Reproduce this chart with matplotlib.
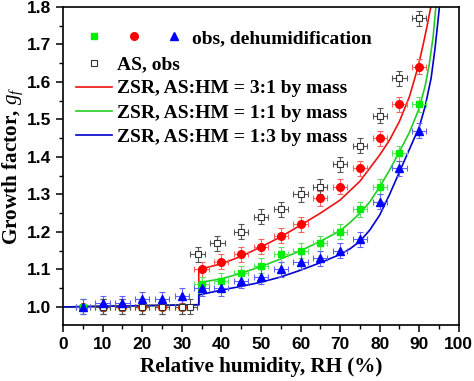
import matplotlib
matplotlib.use("Agg")
import matplotlib.pyplot as plt
from matplotlib.lines import Line2D
from matplotlib.legend_handler import HandlerTuple
from matplotlib.ticker import MultipleLocator

# observed growth factors (dehumidification)
rh_obs = [5, 10, 15, 20, 25, 30, 35, 40, 45, 50, 55, 60, 65, 70, 75, 80, 85, 90]
gf_31 = [1.0, 1.0, 1.0, 1.0, 1.0, 1.0, 1.10, 1.12, 1.14, 1.16, 1.19, 1.22, 1.29, 1.32, 1.37, 1.45, 1.54, 1.64]
gf_11 = [1.0, 1.0, 1.0, 1.0, 1.0, 1.0, 1.06, 1.07, 1.09, 1.11, 1.14, 1.15, 1.17, 1.20, 1.26, 1.32, 1.41, 1.54]
gf_13 = [1.00, 1.01, 1.01, 1.02, 1.02, 1.03, 1.05, 1.05, 1.07, 1.08, 1.10, 1.12, 1.13, 1.15, 1.18, 1.28, 1.37, 1.47]

# pure AS
rh_as = [10, 15, 20, 25, 30, 32, 34, 39, 45, 50, 55, 60, 65, 70, 75, 80, 85, 90]
gf_as = [1.0, 1.0, 1.0, 1.0, 1.0, 1.0, 1.14, 1.17, 1.20, 1.24, 1.26, 1.30, 1.32, 1.38, 1.43, 1.51, 1.61, 1.77]

gf_err = 0.02
rh_err = 1.8

# ZSR predictions
rh_zsr_31 = [0, 34.3, 34.3, 40, 45, 50, 55, 60, 65, 70, 72.5, 75, 77.5, 80, 82.5, 85, 87.5, 89.7, 91, 92, 93.1, 93.6]
gf_zsr_31 = [1.0, 1.006, 1.10, 1.115, 1.135, 1.16, 1.187, 1.218, 1.25, 1.285, 1.31, 1.335, 1.37, 1.405, 1.445, 1.495, 1.56, 1.64, 1.70, 1.75, 1.81, 1.84]
rh_zsr_11 = [0, 34.3, 34.3, 40, 45, 50, 55, 60, 65, 70, 72.5, 75, 77.5, 80, 82.5, 85, 87.5, 90, 91.5, 92.5, 93.5, 94.2, 94.6]
gf_zsr_11 = [1.0, 1.006, 1.065, 1.075, 1.09, 1.108, 1.128, 1.15, 1.175, 1.203, 1.225, 1.25, 1.28, 1.32, 1.365, 1.414, 1.465, 1.53, 1.59, 1.645, 1.72, 1.80, 1.84]
rh_zsr_13 = [0, 34.3, 34.3, 40, 45, 50, 55, 60, 65, 70, 72.5, 75, 77.5, 80, 82.5, 85, 87.5, 90, 91.5, 93, 94, 95, 95.5]
gf_zsr_13 = [1.0, 1.006, 1.032, 1.045, 1.055, 1.066, 1.08, 1.098, 1.118, 1.14, 1.155, 1.175, 1.205, 1.245, 1.30, 1.36, 1.42, 1.48, 1.535, 1.61, 1.69, 1.79, 1.85]

RED, GREEN, BLUE = '#ff0000', '#00ee00', '#0000ff'
serif = 'Liberation Serif'
sans = 'Liberation Sans'

plt.rcParams['mathtext.fontset'] = 'custom'
plt.rcParams['mathtext.it'] = 'Liberation Serif:italic'
plt.rcParams['mathtext.rm'] = 'Liberation Serif'

fig = plt.figure(figsize=(4.74, 3.81), dpi=100)
ax = fig.add_axes([0.133, 0.147, 0.835, 0.835])

ax.plot(rh_zsr_31, gf_zsr_31, color='#ee1111', lw=1.2, zorder=2)
ax.plot(rh_zsr_11, gf_zsr_11, color='#22cc22', lw=1.2, zorder=2)
ax.plot(rh_zsr_13, gf_zsr_13, color='#0000cc', lw=1.2, zorder=2)

eb = dict(xerr=rh_err, yerr=gf_err, capsize=2.2, elinewidth=0.8, capthick=0.8, ls='none', zorder=3)
ax.errorbar(rh_obs, gf_31, fmt='o', ms=5.5, color=RED, ecolor='#ff6060', **eb)
ax.errorbar(rh_obs, gf_11, fmt='s', ms=5, color=GREEN, ecolor='#60e060', **eb)
ax.errorbar(rh_as, gf_as, fmt='s', ms=5, mfc='white', mec='#333333', mew=0.8,
            color='#333333', ecolor='#555555', **eb)
ax.errorbar(rh_obs, gf_13, fmt='^', ms=5.5, color=BLUE, ecolor='#6060ff', **eb)

ax.set_xlim(0, 100)
ax.set_ylim(0.952, 1.8)
ax.xaxis.set_major_locator(MultipleLocator(10))
ax.xaxis.set_minor_locator(MultipleLocator(5))
ax.yaxis.set_major_locator(MultipleLocator(0.1))
ax.yaxis.set_minor_locator(MultipleLocator(0.05))
ax.tick_params(which='major', direction='out', length=5, width=1.1)
ax.tick_params(which='minor', direction='out', length=3, width=1.0)
for sp in ax.spines.values():
    sp.set_linewidth(1.2)
for lab in ax.get_xticklabels() + ax.get_yticklabels():
    lab.set_fontfamily(sans)
    lab.set_fontweight('bold')
    lab.set_fontsize(12.5)

ax.set_xlabel('Relative humidity, RH (%)', fontfamily=serif, fontweight='bold', fontsize=15.2, labelpad=4)
ax.set_ylabel(r'Growth factor, $g_f$', fontfamily=serif, fontweight='bold', fontsize=15.2, labelpad=1)

# legend
fp = dict(family=serif, weight='bold', size=14)
h_obs = (Line2D([], [], marker='s', ls='none', color=GREEN, ms=5),
         Line2D([], [], marker='o', ls='none', color=RED, ms=5.5),
         Line2D([], [], marker='^', ls='none', color=BLUE, ms=5.5))
leg1 = ax.legend([h_obs], ['obs, dehumidification'], loc='upper left', bbox_to_anchor=(0.063, 0.93),
                 frameon=False, prop=fp, borderpad=0, borderaxespad=0, handlelength=4.75,
                 handletextpad=0.6, handler_map={tuple: HandlerTuple(ndivide=None, pad=1.44)})
ax.add_artist(leg1)

h_as = Line2D([], [], marker='s', ls='none', mfc='white', mec='#333333', ms=5, mew=0.8)
h_31 = Line2D([], [], color='#ee1111', lw=1.2)
h_11 = Line2D([], [], color='#22cc22', lw=1.2)
h_13 = Line2D([], [], color='#0000cc', lw=1.2)
ax.legend([h_as, h_31, h_11, h_13],
          ['AS, obs', 'ZSR, AS:HM = 3:1 by mass', 'ZSR, AS:HM = 1:1 by mass', 'ZSR, AS:HM = 1:3 by mass'],
          loc='upper left', bbox_to_anchor=(0.033, 0.846), frameon=False, prop=fp, borderpad=0,
          borderaxespad=0, handlelength=1.85, handletextpad=0.26, labelspacing=0.33)

fig.savefig('out.png', dpi=100)
